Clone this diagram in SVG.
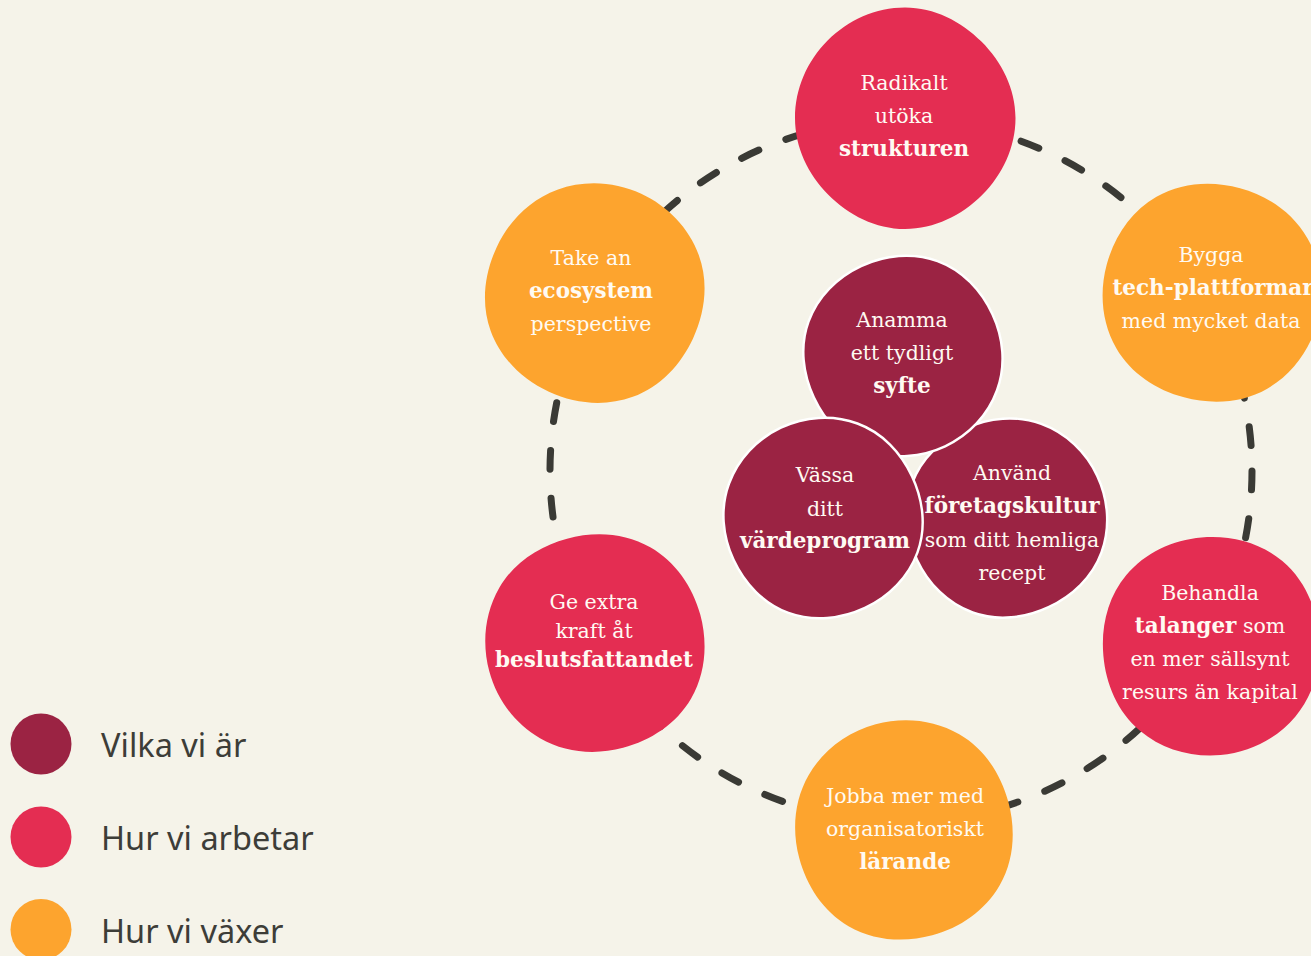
<svg xmlns="http://www.w3.org/2000/svg" xmlns:xlink="http://www.w3.org/1999/xlink" width="1311" height="956" viewBox="0 0 1311 956">
<style>
.pink{fill:#e42d52}
.orange{fill:#fda42e}
.dark{fill:#9b2343;stroke:#ffffff;stroke-width:2.7}
.lbl{font-family:"DejaVu Serif","Liberation Serif",serif;font-size:20.5px;fill:#fffaf2;text-anchor:middle}
.b{font-weight:bold;font-size:21.5px}
.ring{fill:none;stroke:#3a3a35;stroke-width:7;stroke-dasharray:19 29;stroke-linecap:round}
.leg{font-family:"Noto Sans","Liberation Sans",sans-serif;font-size:32.5px;fill:#3d3d38}
</style>
<defs>
<path id="blob" d="M110.5,0 C110.5,29.3 97.5,56.7 77.1,77.1 C56.7,97.5 29.4,111 0,111 C-29.4,111 -56.4,97 -76.7,76.7 C-97,56.4 -110,29.2 -110,0 C-110,-29.2 -97.9,-56.9 -77.4,-77.4 C-56.9,-97.9 -29.3,-110.5 0,-110.5 C29.3,-110.5 56.2,-96.6 76.4,-76.4 C96.6,-56.2 110.5,-29.3 110.5,0 Z"/>
</defs>
<rect width="1311" height="956" fill="#f5f3e9"/>
<g id="connectors">
<circle class="ring" cx="901" cy="471" r="351"/>
</g>
<g id="n-top">
<use href="#blob" class="pink" transform="translate(905,118)"/>
<text class="lbl"><tspan x="904" y="90">Radikalt</tspan><tspan x="904" y="123">utöka</tspan><tspan x="904" y="156" class="b">strukturen</tspan></text>
</g>
<g id="n-eco">
<use href="#blob" class="orange" transform="translate(595,293) rotate(70)"/>
<text class="lbl"><tspan x="591" y="265">Take an</tspan><tspan x="591" y="298" class="b">ecosystem</tspan><tspan x="591" y="331">perspective</tspan></text>
</g>
<g id="n-tech">
<use href="#blob" class="orange" transform="translate(1212,293) rotate(150)"/>
<text class="lbl"><tspan x="1211" y="262">Bygga</tspan><tspan x="1213" y="295" class="b">tech-plattformar</tspan><tspan x="1211" y="328">med mycket data</tspan></text>
</g>
<g id="n-talang">
<use href="#blob" class="pink" transform="translate(1211,646) rotate(220)"/>
<text class="lbl"><tspan x="1210" y="600">Behandla</tspan><tspan x="1210" y="633"><tspan class="b">talanger</tspan> som</tspan><tspan x="1210" y="666">en mer sällsynt</tspan><tspan x="1210" y="699">resurs än kapital</tspan></text>
</g>
<g id="n-beslut">
<use href="#blob" class="pink" transform="translate(595,643) rotate(300)"/>
<text class="lbl"><tspan x="594" y="609">Ge extra</tspan><tspan x="594" y="638">kraft åt</tspan><tspan x="594" y="667" class="b">beslutsfattandet</tspan></text>
</g>
<g id="n-larande">
<use href="#blob" class="orange" transform="translate(904,830) rotate(30)"/>
<text class="lbl"><tspan x="905" y="803">Jobba mer med</tspan><tspan x="905" y="836">organisatoriskt</tspan><tspan x="905" y="869" class="b">lärande</tspan></text>
</g>
<g id="n-anvand">
<use href="#blob" class="dark" transform="translate(1007,518) rotate(110) scale(0.91)"/>
<text class="lbl"><tspan x="1012" y="480">Använd</tspan><tspan x="1012" y="513" class="b">företagskultur</tspan><tspan x="1012" y="547">som ditt hemliga</tspan><tspan x="1012" y="580">recept</tspan></text>
</g>
<g id="n-syfte">
<use href="#blob" class="dark" transform="translate(903,356) rotate(200) scale(0.91)"/>
<text class="lbl"><tspan x="902" y="327">Anamma</tspan><tspan x="902" y="360">ett tydligt</tspan><tspan x="902" y="393" class="b">syfte</tspan></text>
</g>
<g id="n-varde">
<use href="#blob" class="dark" transform="translate(823,518) rotate(20) scale(0.91)"/>
<text class="lbl"><tspan x="825" y="482">Vässa</tspan><tspan x="825" y="516">ditt</tspan><tspan x="825" y="548" class="b">värdeprogram</tspan></text>
</g>
<g id="legend">
<circle cx="41" cy="744" r="30.5" fill="#9b2343"/>
<text class="leg" x="101" y="757">Vilka vi är</text>
<circle cx="41" cy="837" r="30.5" fill="#e42d52"/>
<text class="leg" x="101" y="850">Hur vi arbetar</text>
<circle cx="41" cy="929.5" r="30.5" fill="#fda42e"/>
<text class="leg" x="101" y="943">Hur vi växer</text>
</g>
</svg>
